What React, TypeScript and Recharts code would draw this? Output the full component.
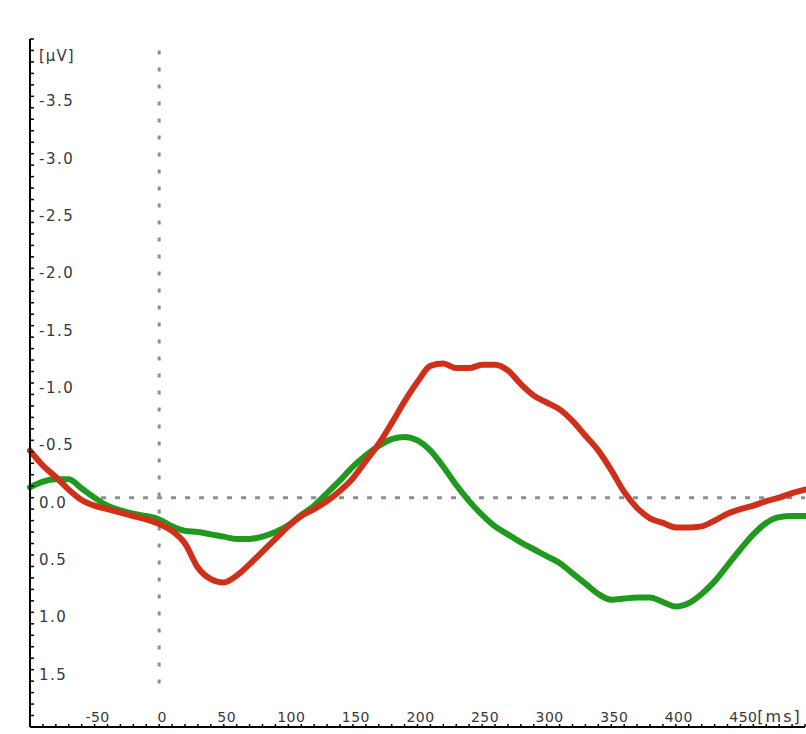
import { LineChart, Line, XAxis, YAxis, ReferenceLine } from 'recharts';

// latency in ms, sampled every 10 ms
const times = [
  -100, -90, -80, -70, -60, -50, -40, -30, -20, -10,
  0, 10, 20, 30, 40, 50, 60, 70, 80, 90,
  100, 110, 120, 130, 140, 150, 160, 170, 180, 190,
  200, 210, 220, 230, 240, 250, 260, 270, 280, 290,
  300, 310, 320, 330, 340, 350, 360, 370, 380, 390,
  400, 410, 420, 430, 440, 450, 460, 470, 480, 490, 500,
];

// amplitude in µV (negative up)
const redWave = [
  -0.41, -0.28, -0.18, -0.07, 0.02, 0.07, 0.1, 0.13, 0.16, 0.19,
  0.23, 0.29, 0.4, 0.61, 0.71, 0.74, 0.68, 0.58, 0.47, 0.36,
  0.25, 0.16, 0.1, 0.03, -0.06, -0.17, -0.32, -0.47, -0.65, -0.84,
  -1.01, -1.15, -1.17, -1.13, -1.13, -1.16, -1.16, -1.11, -0.99, -0.89,
  -0.83, -0.77, -0.67, -0.54, -0.41, -0.24, -0.05, 0.09, 0.18, 0.22,
  0.26, 0.26, 0.25, 0.2, 0.14, 0.1, 0.07, 0.03, 0.0, -0.04, -0.07,
];

const greenWave = [
  -0.09, -0.14, -0.16, -0.16, -0.08, 0.0, 0.07, 0.11, 0.14, 0.16,
  0.19, 0.25, 0.29, 0.3, 0.32, 0.34, 0.36, 0.36, 0.34, 0.3,
  0.24, 0.15, 0.07, -0.04, -0.15, -0.27, -0.37, -0.45, -0.51, -0.53,
  -0.5, -0.41, -0.27, -0.11, 0.03, 0.15, 0.25, 0.32, 0.39, 0.45,
  0.51, 0.57, 0.66, 0.75, 0.84, 0.89, 0.88, 0.87, 0.87, 0.91,
  0.95, 0.92, 0.84, 0.73, 0.59, 0.45, 0.32, 0.22, 0.17, 0.16, 0.16,
];

const xLabels = [-50, 0, 50, 100, 150, 200, 250, 300, 350, 400, 450];
const yLabels = [-3.5, -3.0, -2.5, -2.0, -1.5, -1.0, -0.5, 0.0, 0.5, 1.0, 1.5];
const xUnit = '[ms]';
const yUnit = '[µV]';
const xUnitTick = 460;
const yUnitTick = -3.9;

// minor ticks every 10 ms / 0.1 µV
const xTicks: number[] = [];
for (let t = -100; t <= 500; t += 10) xTicks.push(t);
const yTicks: number[] = [];
for (let i = -40; i <= 20; i++) yTicks.push(i / 10);

const data = times.map((t, i) => ({ t, red: redWave[i], green: greenWave[i] }));

const FONT = '"DejaVu Sans", Verdana, sans-serif';
const TEXT = '#383838';
const DOTS = '#8a8e96';

function XTick({ x, y, payload }: any) {
  const v = payload.value;
  const major = xLabels.includes(v);
  return (
    <g>
      <line x1={x} x2={x} y1={y - 3} y2={y} stroke="#000" strokeWidth={1.5} />
      {major && (
        <text x={x + 3} y={y - 5} textAnchor="middle" fontSize={14} fontFamily={FONT} fill={TEXT} letterSpacing={0.5}>
          {v}
        </text>
      )}
      {v === xUnitTick && (
        <text x={x + 4} y={y - 5} textAnchor="start" fontSize={16} fontFamily={FONT} fill={TEXT} letterSpacing={2}>
          {xUnit}
        </text>
      )}
    </g>
  );
}

function YTick({ x, y, payload }: any) {
  const v = Math.round(payload.value * 10) / 10;
  const major = yLabels.includes(v);
  return (
    <g>
      <line x1={x} x2={x + 4} y1={y} y2={y} stroke="#000" strokeWidth={1.5} />
      {major && (
        <text x={x + 9} y={y + 10} textAnchor="start" fontSize={15} fontFamily={FONT} fill={TEXT} letterSpacing={1.5}>
          {v.toFixed(1)}
        </text>
      )}
      {v === yUnitTick && (
        <text x={x + 9} y={y + 11} textAnchor="start" fontSize={15} fontFamily={FONT} fill={TEXT} letterSpacing={1}>
          {yUnit}
        </text>
      )}
    </g>
  );
}

export default function App() {
  return (
    <div style={{ position: 'absolute', left: 0, top: 0, width: 806, height: 734, background: '#fff' }}>
      <LineChart width={806} height={734} data={data} margin={{ top: 39, right: 1, bottom: 6, left: 29 }}>
        <XAxis
          dataKey="t"
          type="number"
          domain={[-100, 500]}
          ticks={xTicks}
          interval={0}
          height={1}
          tickSize={0}
          tickMargin={0}
          tickLine={false}
          axisLine={{ stroke: '#000', strokeWidth: 2 }}
          tick={<XTick />}
        />
        <YAxis
          type="number"
          domain={[-4, 2]}
          reversed
          ticks={yTicks}
          interval={0}
          width={1}
          tickSize={0}
          tickMargin={0}
          tickLine={false}
          axisLine={{ stroke: '#000', strokeWidth: 2 }}
          tick={<YTick />}
        />
        <ReferenceLine
          segment={[{ x: 0, y: -3.9 }, { x: 0, y: 1.7 }]}
          stroke={DOTS}
          strokeWidth={3}
          strokeDasharray="4 13"
        />
        <ReferenceLine
          segment={[{ x: -45, y: 0 }, { x: 500, y: 0 }]}
          stroke={DOTS}
          strokeWidth={3}
          strokeDasharray="5 9"
        />
        <Line
          type="monotone"
          dataKey="green"
          stroke="#1f9a1f"
          strokeWidth={6}
          dot={false}
          strokeLinecap="round"
          isAnimationActive={false}
        />
        <Line
          type="monotone"
          dataKey="red"
          stroke="#d0301a"
          strokeWidth={6}
          dot={false}
          strokeLinecap="round"
          isAnimationActive={false}
        />
      </LineChart>
    </div>
  );
}
